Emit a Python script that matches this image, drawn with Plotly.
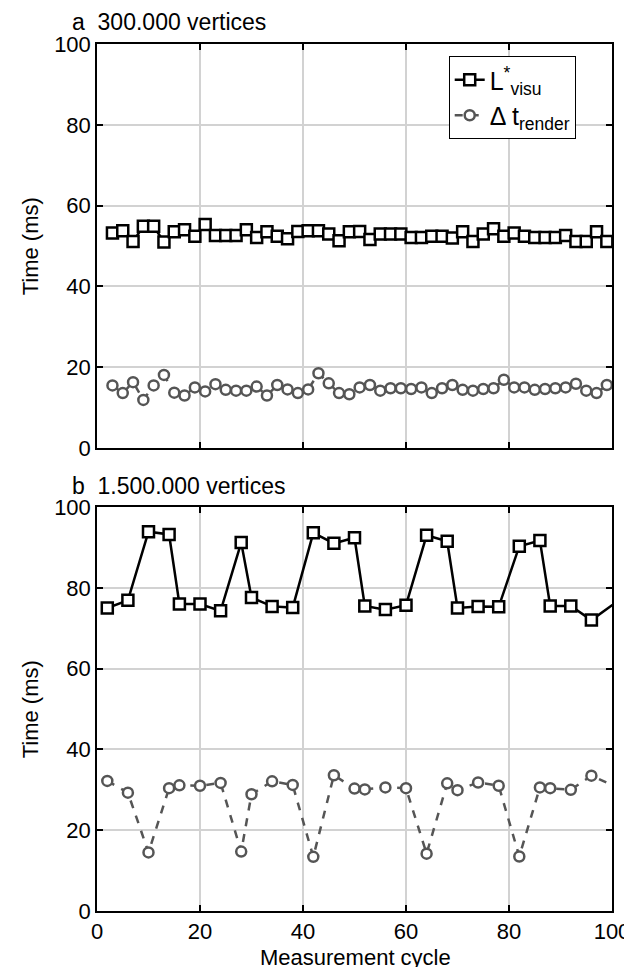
import plotly.graph_objects as go

# ---- data: panel a (300.000 vertices) ----
x_a = [3, 5, 7, 9, 11, 13, 15, 17, 19, 21, 23, 25, 27, 29, 31, 33, 35, 37, 39, 41,
       43, 45, 47, 49, 51, 53, 55, 57, 59, 61, 63, 65, 67, 69, 71, 73, 75, 77, 79, 81,
       83, 85, 87, 89, 91, 93, 95, 97, 99]
lvisu_a = [53.2, 53.8, 51.1, 54.9, 54.9, 51.0, 53.5, 54.0, 52.4, 55.3, 52.6, 52.6, 52.6, 54.0,
           52.1, 53.5, 52.4, 51.8, 53.6, 53.8, 53.8, 53.0, 51.3, 53.5, 53.6, 51.6, 53.0, 53.0,
           53.0, 52.1, 52.1, 52.4, 52.4, 52.0, 53.5, 51.1, 53.0, 54.3, 52.4, 53.2, 52.4, 52.1,
           52.1, 52.1, 52.6, 51.1, 51.1, 53.5, 51.1]
trender_a = [15.5, 13.6, 16.3, 11.9, 15.5, 18.1, 13.7, 13.0, 15.0, 14.0, 15.8, 14.4, 14.2, 14.2,
             15.2, 13.0, 15.6, 14.5, 13.6, 14.5, 18.5, 16.0, 13.6, 13.3, 15.0, 15.6, 14.2, 14.8,
             14.8, 14.6, 15.0, 13.6, 14.8, 15.6, 14.4, 14.2, 14.6, 14.8, 16.9, 15.0, 15.0, 14.4,
             14.6, 14.8, 15.0, 15.9, 14.2, 13.6, 15.6]

# ---- data: panel b (1.500.000 vertices) ----
x_b = [2, 6, 10, 14, 16, 20, 24, 28, 30, 34, 38, 42, 46, 50, 52, 56, 60, 64, 68, 70,
       74, 78, 82, 86, 88, 92, 96, 102]
lvisu_b = [75.0, 76.9, 93.9, 93.2, 76.0, 76.0, 74.3, 91.2, 77.6, 75.4, 75.1, 93.6, 91.0, 92.4,
           75.5, 74.6, 75.7, 93.0, 91.5, 75.0, 75.4, 75.3, 90.3, 91.7, 75.5, 75.5, 72.0, 77.5]
trender_b = [32.2, 29.3, 14.5, 30.4, 31.1, 31.0, 31.7, 14.7, 28.9, 32.1, 31.2, 13.4, 33.6, 30.3,
             30.1, 30.6, 30.4, 14.2, 31.6, 29.9, 31.8, 31.0, 13.5, 30.6, 30.4, 30.0, 33.5, 30.0]

x_ticks = [0, 20, 40, 60, 80, 100]
y_ticks = [0, 20, 40, 60, 80, 100]

FONT = "Liberation Sans, Arial, Helvetica, sans-serif"
BLACK = "#000000"
GRAY = "#555555"
FS_TICK = 22
FS_LABEL = 23
FS_XTITLE = 22
FS_YTITLE = 22
FS_LEGEND = 25

fig = go.Figure()

def add_panel(xs, l, t, xa, ya, legend):
    fig.add_trace(go.Scatter(
        x=xs, y=l, xaxis=xa, yaxis=ya, mode="lines+markers",
        name="L<sup>*</sup><sub>visu</sub>", showlegend=legend,
        line=dict(color=BLACK, width=2.5),
        marker=dict(symbol="square", size=11, color="white",
                    line=dict(color=BLACK, width=2.5)),
        cliponaxis=True))
    fig.add_trace(go.Scatter(
        x=xs, y=t, xaxis=xa, yaxis=ya, mode="lines+markers",
        name="\u0394 t<sub>render</sub>", showlegend=legend,
        line=dict(color=GRAY, width=2.5, dash="8px,8px"),
        marker=dict(symbol="circle", size=10, color="white",
                    line=dict(color=GRAY, width=2.5)),
        cliponaxis=True))

add_panel(x_a, lvisu_a, trender_a, "x", "y", True)
add_panel(x_b, lvisu_b, trender_b, "x2", "y2", False)

axis_common = dict(
    showline=True, linecolor=BLACK, linewidth=1.5, mirror="ticks",
    ticks="inside", ticklen=6, tickwidth=1.5, tickcolor=BLACK,
    showgrid=True, gridcolor="#d2d2d2", gridwidth=1.5,
    zeroline=False, tickfont=dict(family=FONT, size=FS_TICK, color=BLACK),
    ticklabeloverflow="allow",
)

PLOT_H = 867
top_bottom = (903 - 440) / PLOT_H
bot_top = (903 - 499) / PLOT_H

def px_x(p):
    return (p - 89) / 533

def px_y(p):
    return (903 - p) / PLOT_H

fig.update_layout(
    width=632, height=967,
    margin=dict(l=89, r=10, t=36, b=64),
    paper_bgcolor="white", plot_bgcolor="white",
    font=dict(family=FONT, size=FS_TICK, color=BLACK),
    xaxis=dict(**axis_common, domain=[0, 1], range=[0, 100], tickvals=x_ticks,
               showticklabels=False, anchor="y"),
    yaxis=dict(**axis_common, domain=[top_bottom, 1], range=[0, 100], tickvals=y_ticks,
               anchor="x"),
    xaxis2=dict(**axis_common, domain=[0, 1], range=[0, 100], tickvals=x_ticks,
                anchor="y2"),
    yaxis2=dict(**axis_common, domain=[0, bot_top], range=[0, 100], tickvals=y_ticks,
                anchor="x2"),
    legend=dict(x=px_x(453), y=px_y(48), xanchor="left", yanchor="top",
                bordercolor=BLACK, borderwidth=1, bgcolor="white",
                font=dict(family=FONT, size=FS_LEGEND, color=BLACK),
                tracegroupgap=0, itemwidth=30),
    annotations=[
        dict(text="a  300.000 vertices", xref="paper", yref="paper",
             x=px_x(61), y=px_y(14), xanchor="left", yanchor="middle",
             showarrow=False, font=dict(family=FONT, size=FS_LABEL, color=BLACK)),
        dict(text="b  1.500.000 vertices", xref="paper", yref="paper",
             x=px_x(61), y=px_y(478), xanchor="left", yanchor="middle",
             showarrow=False, font=dict(family=FONT, size=FS_LABEL, color=BLACK)),
        dict(text="Measurement cycle", xref="paper", yref="paper",
             x=px_x(357), y=px_y(949), xanchor="center", yanchor="middle",
             showarrow=False, font=dict(family=FONT, size=FS_XTITLE, color=BLACK)),
        dict(text="Time (ms)", xref="paper", yref="paper", textangle=-90,
             x=px_x(20), y=px_y(238), xanchor="center", yanchor="middle",
             showarrow=False, font=dict(family=FONT, size=FS_YTITLE, color=BLACK)),
        dict(text="Time (ms)", xref="paper", yref="paper", textangle=-90,
             x=px_x(20), y=px_y(701), xanchor="center", yanchor="middle",
             showarrow=False, font=dict(family=FONT, size=FS_YTITLE, color=BLACK)),
    ],
)

fig.write_html("out.html")
